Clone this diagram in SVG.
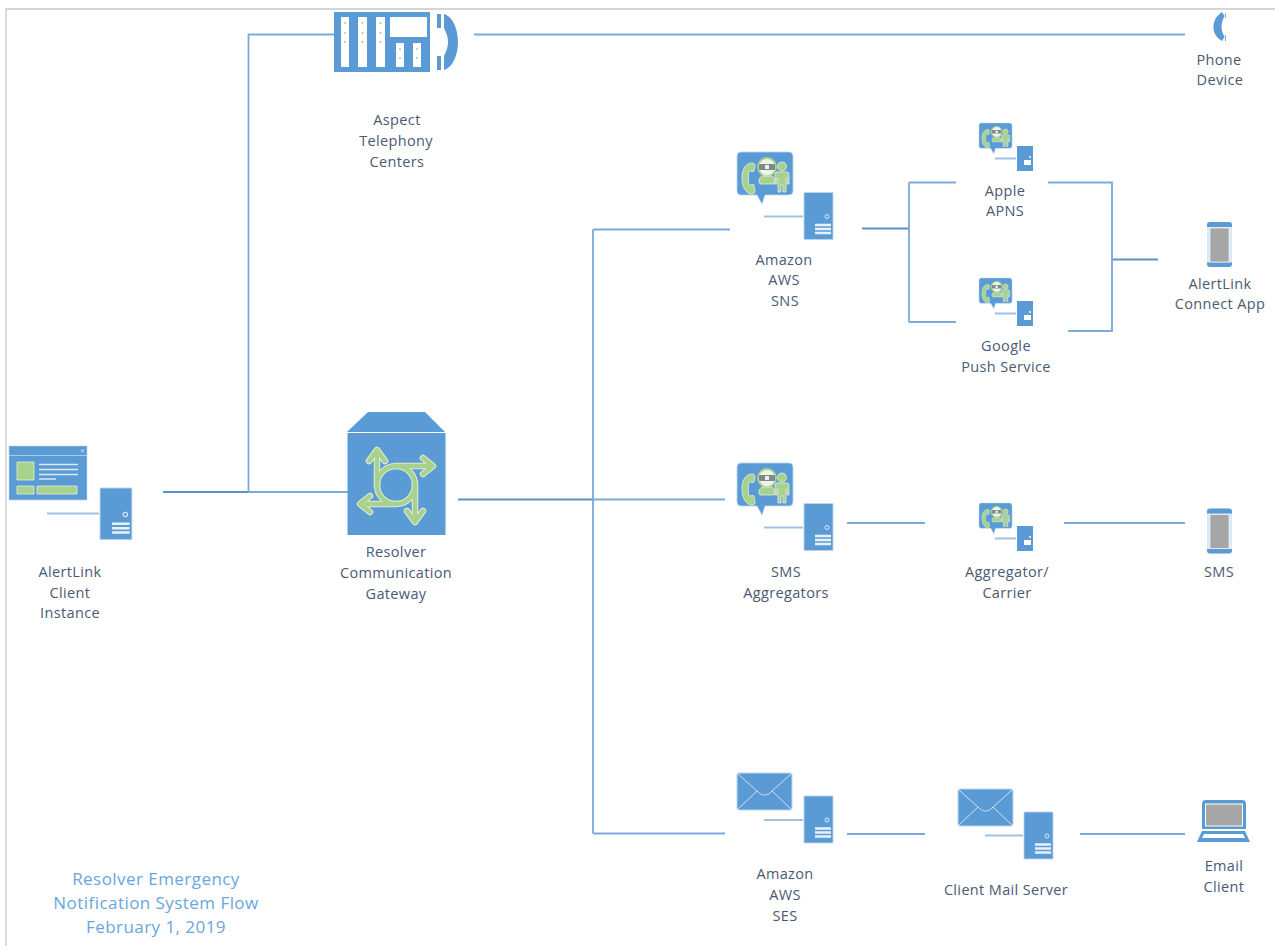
<svg xmlns="http://www.w3.org/2000/svg" xmlns:xlink="http://www.w3.org/1999/xlink" width="1275" height="946" viewBox="0 0 1275 946">
<style>
text{font-family:"Open Sans","Liberation Sans",sans-serif;font-size:14.5px;fill:#4a5a72;text-anchor:middle;letter-spacing:.35px}
text.t{font-size:17px;fill:#6aa6dc;letter-spacing:.45px}
.c{fill:none;stroke:#7ba9d9;stroke-width:1.800}
.d{fill:none;stroke:#5b92cc;stroke-width:2}
.b{fill:#5b9bd5}
.g{fill:#a9d18e;stroke:#e4efdc;stroke-width:.8}
.w{fill:#fff}
.sl{stroke:#9dc3e6;stroke-width:2;fill:none}
</style>
<defs>
<g id="server">
<rect class="b" x="0" y="0" width="29" height="47" stroke="#bdd7ee" stroke-width=".8"/>
<circle cx="23" cy="24" r="2" fill="none" stroke="#dbe8f5" stroke-width="1"/>
<path d="M11 32.500h16M11 36.500h16M11 40.500h16" stroke="#e8f1f9" stroke-width="2.300" fill="none"/>
</g>
<g id="bubble">
<path class="b" stroke="#bdd7ee" stroke-width=".8" d="M4 0H52a4 4 0 0 1 4 4V39a4 4 0 0 1-4 4H28L25 52 20 43H4a4 4 0 0 1-4-4V4a4 4 0 0 1 4-4z"/>
<path class="g" d="M15 11c-4 0-10 3-10 15s6 16 10 16c2 0 3-1 3-3l-1-6c-1-1-3 0-5 0-1-3-1-11 0-14 2 0 4 1 5 0l1-5c0-2-1-3-3-3z"/>
<circle cx="30" cy="15" r="9" fill="#eef5e8" stroke="#a9d18e" stroke-width="1.800"/>
<rect x="22" y="12" width="16" height="6" rx="1" fill="#7d8a8a"/><rect x="28" y="13" width="4" height="4" fill="#eee"/>
<path class="g" d="M25 24h10l3 3v3l-1 2H23l-1-2v-3z"/>
<circle class="g" cx="45" cy="14.500" r="4.500"/>
<path class="g" d="M39 20h12l1 2v10h-2v-6h-1v14h-3v-7h-2v7h-3V26h-1v6h-2V22z"/>
</g>
<g id="envelope">
<rect class="b" x="0" y="0" width="55" height="37" rx="2" stroke="#bdd7ee"/>
<path d="M1 1L21 19C25 23 30 23 34 19L54 1M20 18L1 36M35 18L54 36" fill="none" stroke="#cfe0f2" stroke-width="1"/>
</g>
<g id="phoneicon">
<path d="M3 0.500h19a3 3 0 0 1 3 3v39a3 3 0 0 1-3 3H3a3 3 0 0 1-3-3v-39a3 3 0 0 1 3-3z" fill="#dbe8f5"/>
<path class="b" d="M0 5.500V3.500a3 3 0 0 1 3-3h19a3 3 0 0 1 3 3V5.500zM0 41v1.500a3 3 0 0 0 3 3h19a3 3 0 0 0 3-3V41z"/>
<rect x="3" y="6.500" width="19" height="34" fill="#a6a6a6" stroke="#fff" stroke-width=".6"/>
</g>
</defs>

<path d="M6 946V9H1275" fill="none" stroke="#c8c8c8" stroke-width="1.300"/>

<g id="connectors">
<path class="d" d="M163 492H248"/>
<path class="c" d="M248 492H348M248.500 492V34.500H335M474 34.500H1185"/>
<path class="d" d="M458 499.500H593M862 228.500H909M1112 259.500H1158"/>
<path class="c" d="M593 499.500H725M593 229.500V833.500M593 229.500H730M593 833.500H725"/>
<path class="c" d="M909 228.500V182.500M909 228.500V322M909 182.500H956M909 322H956"/>
<path class="c" d="M1048 182.500H1112V331H1068"/>
<path class="c" d="M847 523H925M1064 523H1185M847 834H925M1080 834H1185"/>
</g>

<g id="aspect">
<path class="b" d="M334 12H430V72H334z"/>
<path class="w" d="M341 17H349V67H341zM358 17H367V67H358zM376 17H385V67H376zM390 17H427V37H390zM396 43H404V67H396zM413 43H421V67H413z"/>
<path d="M345 23v.1M345 33v.1M345 42v.1M362.500 23v.1M362.500 33v.1M362.500 42v.1M380.500 23v.1M380.500 33v.1M380.500 42v.1M400 49v.1M400 58v.1M417 49v.1M417 58v.1" stroke="#a9d18e" stroke-width="2" stroke-linecap="round" fill="none"/>
<path class="b" d="M437 14H441V28H437zM437 56H441V70H437zM444 14C452 16 458 28 458 42S452 68 444 70V56C447 50 448 46 448 42S447 34 444 28z"/>
<text x="397" y="125">Aspect</text><text x="396" y="146">Telephony</text><text x="397" y="167">Centers</text>
</g>

<g id="phone-device">
<path class="b" d="M1222 12C1216 16 1213.500 21 1213.500 27S1216 37 1222 41L1224.500 37C1222.500 33 1221.500 30 1221.500 27S1222.500 20 1224.500 16z"/>
<path d="M1225.500 13V18M1225.500 35V41" stroke="#7fb0de" stroke-width="1"/>
<text x="1219" y="65">Phone</text><text x="1220" y="85">Device</text>
</g>

<g id="amazon-sns">
<use xlink:href="#bubble" href="#bubble" x="737" y="152"/>
<path class="sl" d="M764 216.500H803"/>
<use xlink:href="#server" href="#server" x="804" y="192.500"/>
<text x="784" y="265">Amazon</text><text x="784" y="285">AWS</text><text x="785" y="306">SNS</text>
</g>

<g id="apple-apns">
<use xlink:href="#bubble" href="#bubble" transform="translate(979 123) scale(.59)"/>
<path class="sl" d="M995 158.500H1016"/>
<rect class="b" x="1017" y="146" width="16" height="25"/><path d="M1024 160h7v5h-7z" fill="#fff"/><circle cx="1030" cy="157" r="1" fill="#fff"/>
<text x="1005" y="196">Apple</text><text x="1005" y="216">APNS</text>
</g>

<g id="google-push">
<use xlink:href="#bubble" href="#bubble" transform="translate(979 278) scale(.59)"/>
<path class="sl" d="M995 313.500H1016"/>
<rect class="b" x="1017" y="301" width="16" height="25"/><path d="M1024 315h7v5h-7z" fill="#fff"/><circle cx="1030" cy="312" r="1" fill="#fff"/>
<text x="1006" y="351">Google</text><text x="1006" y="372">Push Service</text>
</g>

<g id="alertlink-app">
<use xlink:href="#phoneicon" href="#phoneicon" x="1207" y="221.500"/>
<text x="1220" y="289">AlertLink</text><text x="1220" y="309">Connect App</text>
</g>

<g id="client-instance">
<rect class="b" x="9" y="446" width="78" height="54" stroke="#bdd7ee" stroke-width=".6"/>
<path d="M9 455.500H87" stroke="#bdd7ee" stroke-width=".8"/>
<path d="M81 449.500l3 3m0-3l-3 3" stroke="#e8f1f9" stroke-width=".8"/>
<path class="g" d="M17 462H34V480H17zM17 486H34V494H17zM37 486H77V494H37z"/>
<path d="M39 464.500H78M39 469.500H78M39 474.500H78M39 479H56" stroke="#dbe8f5" stroke-width="1.300"/>
<path class="sl" d="M47 513.500H99"/>
<g transform="translate(100 488) scale(1.100)"><use xlink:href="#server" href="#server"/></g>
<text x="70" y="577">AlertLink</text><text x="70" y="598">Client</text><text x="70" y="618">Instance</text>
</g>

<g id="gateway">
<path class="b" d="M347 432L368 412H425L445 432z"/>
<rect class="b" x="347.500" y="433" width="98" height="102"/>
<g fill="none" stroke-linecap="round" stroke-linejoin="round">
<g stroke="#dcebd2" stroke-width="6.500">
<circle cx="396" cy="485" r="19"/>
<path d="M377 485V452M369 461L377 450L385 461M396 466H430M423 458L433 466L423 474M415 485V518M407 511L415 522L423 511M396 504H362M370 496L360 504L370 512"/>
</g>
<g stroke="#a9d18e" stroke-width="4.300">
<circle cx="396" cy="485" r="19"/>
<path d="M377 485V452M369 461L377 450L385 461M396 466H430M423 458L433 466L423 474M415 485V518M407 511L415 522L423 511M396 504H362M370 496L360 504L370 512"/>
</g>
</g>
<text x="396" y="557">Resolver</text><text x="396" y="578">Communication</text><text x="396" y="599">Gateway</text>
</g>

<g id="sms-aggregators">
<use xlink:href="#bubble" href="#bubble" x="737" y="463"/>
<path class="sl" d="M764 527.500H803"/>
<use xlink:href="#server" href="#server" x="804" y="503.500"/>
<text x="786" y="577">SMS</text><text x="786" y="598">Aggregators</text>
</g>

<g id="aggregator-carrier">
<use xlink:href="#bubble" href="#bubble" transform="translate(979 503) scale(.59)"/>
<path class="sl" d="M995 538.500H1016"/>
<rect class="b" x="1017" y="526" width="16" height="25"/><path d="M1024 540h7v5h-7z" fill="#fff"/><circle cx="1030" cy="537" r="1" fill="#fff"/>
<text x="1007" y="577">Aggregator/</text><text x="1007" y="598">Carrier</text>
</g>

<g id="sms">
<use xlink:href="#phoneicon" href="#phoneicon" x="1207" y="508"/>
<text x="1219" y="577">SMS</text>
</g>

<g id="amazon-ses">
<use xlink:href="#envelope" href="#envelope" x="737" y="773"/>
<path class="sl" d="M764 820H803"/>
<use xlink:href="#server" href="#server" x="804" y="796"/>
<text x="785" y="879">Amazon</text><text x="785" y="900">AWS</text><text x="785" y="921">SES</text>
</g>

<g id="client-mail-server">
<use xlink:href="#envelope" href="#envelope" x="958" y="789"/>
<path class="sl" d="M985 835.500H1023"/>
<use xlink:href="#server" href="#server" x="1024" y="812"/>
<text x="1006" y="895">Client Mail Server</text>
</g>

<g id="email-client">
<path d="M1202 829V804a4 4 0 0 1 4-4H1242a4 4 0 0 1 4 4V829z" class="b"/>
<rect x="1205.500" y="804" width="37" height="22" fill="#a6a6a6" stroke="#fff" stroke-width="1"/>
<path class="b" d="M1202 831H1245L1250 842H1197z"/>
<path class="w" d="M1204 834H1243L1245 838H1202z"/>
<text x="1224" y="871">Email</text><text x="1224" y="892">Client</text>
</g>

<g id="title">
<text class="t" x="156" y="885">Resolver Emergency</text>
<text class="t" x="156" y="909">Notification System Flow</text>
<text class="t" x="156" y="933">February 1, 2019</text>
</g>
</svg>
